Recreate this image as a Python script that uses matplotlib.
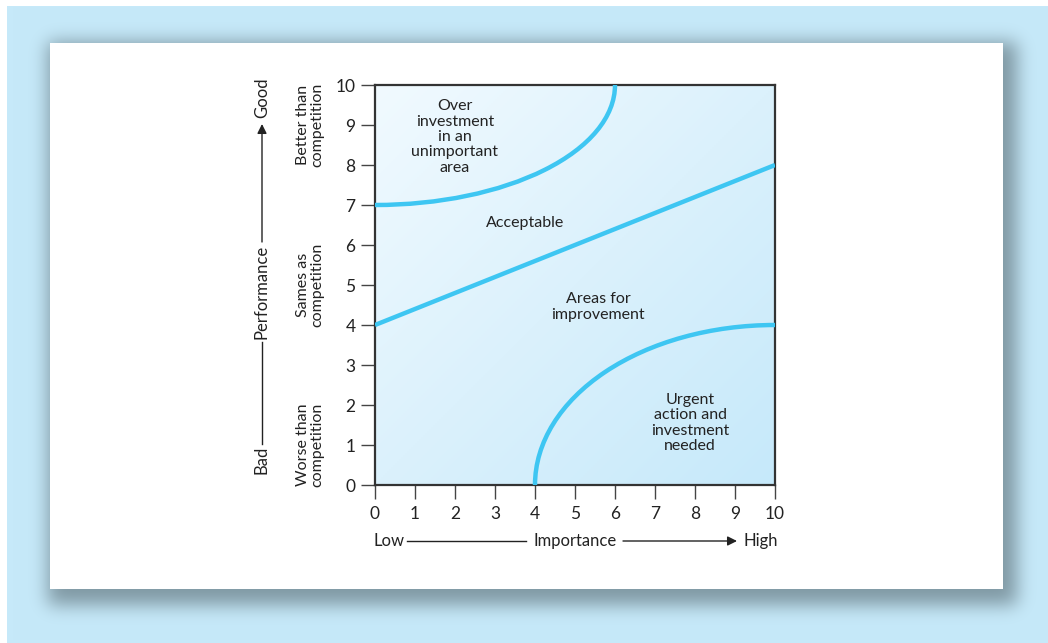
import numpy as np
import matplotlib.pyplot as plt
from matplotlib.patches import Arc, Rectangle
from matplotlib.colors import LinearSegmentedColormap

plt.rcParams['font.family'] = ['Lato', 'DejaVu Sans']

# axis data
x_ticks = [0, 1, 2, 3, 4, 5, 6, 7, 8, 9, 10]
y_ticks = [0, 1, 2, 3, 4, 5, 6, 7, 8, 9, 10]

# straight boundary: acceptable / areas for improvement
line_x = [0, 10]
line_y = [4, 8]

# quarter-ellipse boundaries: centre x, centre y, width, height, theta1, theta2
upper_arc = (0, 10, 12, 6, 270, 360)
lower_arc = (10, 0, 12, 8, 90, 180)

region_labels = ["Over\ninvestment\nin an\nunimportant\narea", "Acceptable",
                 "Areas for\nimprovement", "Urgent\naction and\ninvestment\nneeded"]
region_x = [2.0, 3.75, 5.58, 7.88]
region_y = [8.7, 6.55, 4.45, 1.55]

perf_labels = ["Worse than\ncompetition", "Sames as\ncompetition", "Better than\ncompetition"]
perf_y = [1.0, 5.0, 9.0]

W, H = 1048, 643
fig = plt.figure(figsize=(W / 100, H / 100), dpi=100)
fig.patch.set_facecolor('white')

# background decoration in pixel coordinates
bg = fig.add_axes([0, 0, 1, 1])
bg.set_xlim(0, W)
bg.set_ylim(H, 0)
bg.axis('off')

# blurred drop shadow behind the white card
px = np.arange(W)
py = np.arange(H)
def soft(v, a, b, s):
    k = np.exp(-0.5 * (np.arange(-35, 36) / s) ** 2)
    k /= k.sum()
    m = ((v >= a) & (v <= b)).astype(float)
    return np.convolve(m, k, mode='same')
shade = np.outer(soft(py, 42, 604, 9), soft(px, 48, 1016, 9))
light = np.array([0xc6, 0xe9, 0xf9]) / 255
dark = np.array([0x80, 0x99, 0xa4]) / 255
img = light + shade[..., None] * (dark - light)
bg.imshow(img, extent=(0, W, H, 0), aspect='auto', zorder=0, interpolation='bilinear')
bg.add_patch(Rectangle((0, 0), W, 6, color='white', lw=0, zorder=1))
bg.add_patch(Rectangle((0, 0), 7, H, color='white', lw=0, zorder=1))
bg.add_patch(Rectangle((50, 43), 953, 546, color='white', lw=0, zorder=1))
bg.set_xlim(0, W)
bg.set_ylim(H, 0)

ax = fig.add_axes([375 / W, (H - 485) / H, 400 / W, 400 / H])

cmap = LinearSegmentedColormap.from_list('bl', ['#f1faff', '#dbf1fc', '#c6e9fa'])
gx, gy = np.meshgrid(np.linspace(0, 1, 200), np.linspace(0, 1, 200))
ax.imshow((gx + gy) / 2, extent=(0, 10, 0, 10), cmap=cmap, aspect='auto', zorder=0)

blue = '#3ec6f2'
ax.plot(line_x, line_y, color=blue, lw=3.2, solid_capstyle='butt', zorder=3)
for cx, cy, w, h, t1, t2 in [upper_arc, lower_arc]:
    ax.add_patch(Arc((cx, cy), w, h, theta1=t1, theta2=t2, color=blue, lw=3.2, zorder=3))

tc = '#222222'
for lab, lx, ly in zip(region_labels, region_x, region_y):
    ax.text(lx, ly, lab, ha='center', va='center', fontsize=11.5, color=tc,
            linespacing=1.12, zorder=4)

ax.set_xlim(0, 10)
ax.set_ylim(0, 10)
ax.set_xticks(x_ticks)
ax.set_yticks(y_ticks)
ax.tick_params(direction='out', length=10, width=1, color='#444444', labelsize=12.5,
               labelcolor=tc)
ax.tick_params(axis='x', pad=5)
ax.tick_params(axis='y', pad=4)
for s in ax.spines.values():
    s.set_color('#333333')
    s.set_linewidth(1.6)

for lab, py_ in zip(perf_labels, perf_y):
    ax.text(-1.62, py_, lab, rotation=90, ha='center', va='center', fontsize=11.5,
            color=tc, linespacing=0.95, clip_on=False)

# far-left performance axis
bg.text(262, 460, "Bad", rotation=90, ha='center', va='center', fontsize=12, color=tc)
bg.text(262, 292, "Performance", rotation=90, ha='center', va='center', fontsize=12, color=tc)
bg.text(262, 98, "Good", rotation=90, ha='center', va='center', fontsize=12, color=tc)
bg.plot([262, 262], [444, 342], color=tc, lw=1)
bg.annotate('', xy=(262, 124), xytext=(262, 242),
            arrowprops=dict(arrowstyle='-|>', color=tc, lw=1, mutation_scale=14,
                            shrinkA=0, shrinkB=0))

# bottom importance axis
bg.text(389, 541, "Low", ha='center', va='center', fontsize=12, color=tc)
bg.text(575, 541, "Importance", ha='center', va='center', fontsize=12, color=tc)
bg.text(761, 541, "High", ha='center', va='center', fontsize=12, color=tc)
bg.plot([407, 526], [541, 541], color=tc, lw=1)
bg.annotate('', xy=(737, 541), xytext=(623, 541),
            arrowprops=dict(arrowstyle='-|>', color=tc, lw=1, mutation_scale=14,
                            shrinkA=0, shrinkB=0))

fig.savefig('out.png', dpi=100)
